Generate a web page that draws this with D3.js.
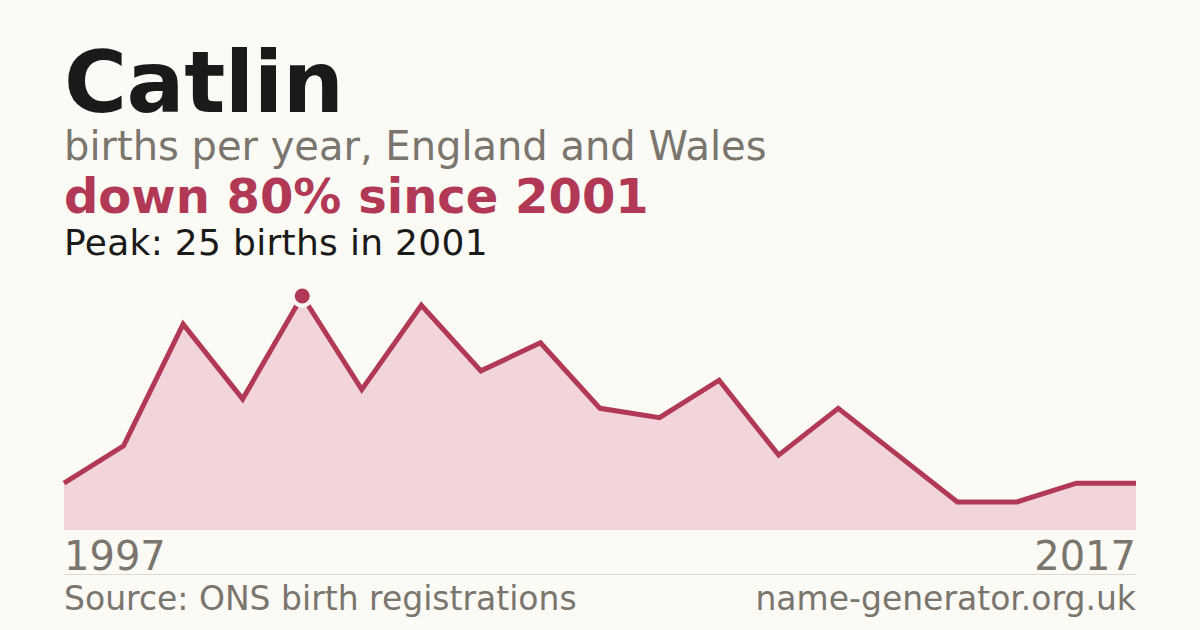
<!DOCTYPE html>
<html>
<head>
<meta charset="utf-8">
<script src="https://cdn.jsdelivr.net/npm/d3@7"></script>
<style>
  body { margin: 0; background: #fbfaf5; }
  svg { display: block; font-family: "DejaVu Sans", sans-serif; }
</style>
</head>
<body>
<script>
// births per year (years with fewer than 3 births are not published)
var years = [1997, 1998, 1999, 2000, 2001, 2002, 2003, 2004, 2005, 2006,
             2007, 2008, 2009, 2010, 2011, 2012, 2014, 2016, 2017];
var births = [5, 9, 22, 14, 25, 15, 24, 17, 20, 13,
              12, 16, 8, 13, 8, 3, 3, 5, 5];
var peakYear = 2001;

var width = 1200, height = 630;
var margin = {top: 296, right: 64, bottom: 100, left: 64};
var red = "#b13956", grey = "#7a756d";

var svg = d3.select("body").append("svg")
  .attr("width", width)
  .attr("height", height);

svg.append("rect").attr("width", width).attr("height", height).attr("fill", "#fbfaf5");

// headings
svg.append("text").attr("x", 64).attr("y", 112)
  .attr("font-size", 86).attr("font-weight", "bold").attr("fill", "#1a1a1a")
  .attr("letter-spacing", -0.5)
  .text("Catlin");
svg.append("text").attr("x", 64).attr("y", 160)
  .attr("font-size", 40).attr("fill", grey)
  .text("births per year, England and Wales");

var peakIdx = years.indexOf(peakYear);
var last = births[births.length - 1];
var change = Math.round((1 - last / births[peakIdx]) * 100);
svg.append("text").attr("x", 64).attr("y", 213)
  .attr("font-size", 48).attr("font-weight", "bold").attr("fill", red)
  .text("down " + change + "% since " + peakYear);
svg.append("text").attr("x", 64).attr("y", 255)
  .attr("font-size", 36).attr("fill", "#1a1a1a")
  .attr("letter-spacing", 0.3)
  .text("Peak: " + births[peakIdx] + " births in " + peakYear);

// scales
var x = d3.scalePoint()
  .domain(years)
  .range([margin.left, width - margin.right]);

var y = d3.scaleLinear()
  .domain([0, d3.max(births)])
  .range([530, margin.top]);

var data = years.map(function(yr, i) { return {year: yr, n: births[i]}; });

var area = d3.area()
  .x(function(d) { return x(d.year); })
  .y0(y(0))
  .y1(function(d) { return y(d.n); });

var line = d3.line()
  .x(function(d) { return x(d.year); })
  .y(function(d) { return y(d.n); });

svg.append("path").datum(data)
  .attr("d", area)
  .attr("fill", "#f2d5db");

svg.append("path").datum(data)
  .attr("d", line)
  .attr("fill", "none")
  .attr("stroke", red)
  .attr("stroke-width", 5)
  .attr("stroke-linejoin", "miter");

// peak marker
svg.append("circle")
  .attr("cx", x(peakYear))
  .attr("cy", y(births[peakIdx]))
  .attr("r", 9.5)
  .attr("fill", red)
  .attr("stroke", "#fbfaf5")
  .attr("stroke-width", 4);

// first / last year labels
svg.append("text").attr("x", x(years[0])).attr("y", 570)
  .attr("font-size", 40).attr("fill", grey)
  .text(years[0]);
svg.append("text").attr("x", x(years[years.length - 1])).attr("y", 570)
  .attr("text-anchor", "end")
  .attr("font-size", 40).attr("fill", grey)
  .text(years[years.length - 1]);

// footer
svg.append("line")
  .attr("x1", 64).attr("x2", width - 64)
  .attr("y1", 574.5).attr("y2", 574.5)
  .attr("stroke", "#dcd9d2").attr("stroke-width", 1);

svg.append("text").attr("x", 64).attr("y", 610)
  .attr("font-size", 33).attr("fill", grey)
  .text("Source: ONS birth registrations");
svg.append("text").attr("x", width - 64).attr("y", 610)
  .attr("text-anchor", "end")
  .attr("font-size", 33).attr("fill", grey)
  .text("name-generator.org.uk");
</script>
</body>
</html>
